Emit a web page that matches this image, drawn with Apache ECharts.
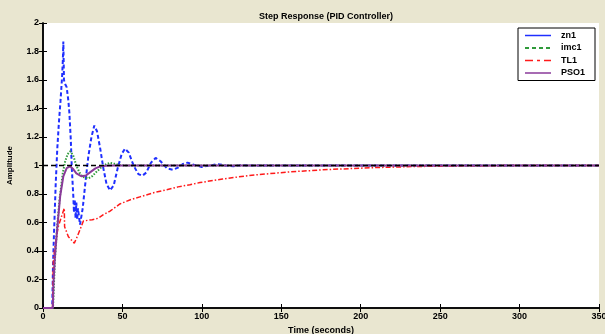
<!DOCTYPE html>
<html>
<head>
<meta charset="utf-8">
<script src="https://cdn.jsdelivr.net/npm/echarts@6/dist/echarts.min.js"></script>
<style>
html, body { margin:0; padding:0; background:#e9e6d0; }
#chart { width:605px; height:334px; }
</style>
</head>
<body>
<div id="chart"></div>
<script>
// step response readings, time in seconds
var zn1T = [0, 5.8, 6.3, 7, 8, 9, 10, 11, 12, 12.5, 12.8, 13.2, 14, 14.9, 16, 16.6, 17.5, 18.1, 19.1, 19.5, 20, 20.5, 21, 21.5, 22, 23.3, 25, 26.4, 28.5, 30.5, 32.3, 34, 36, 38, 40, 42.2, 44.5, 47, 49.5, 51.6, 54, 57, 60, 62.5, 65, 68, 70.9, 74, 78, 81.6, 85, 88, 91, 95, 99.9, 105, 109.7, 115, 120, 125, 130, 140, 350];
var zn1Y = [0, 0, 0.3, 0.55, 0.87, 1.12, 1.3, 1.45, 1.62, 1.74, 1.87, 1.6, 1.57, 1.55, 1.45, 1.37, 1.18, 0.99, 0.78, 0.67, 0.76, 0.63, 0.74, 0.62, 0.7, 0.585, 0.7, 0.85, 1.06, 1.2, 1.28, 1.24, 1.12, 0.98, 0.87, 0.825, 0.86, 0.98, 1.08, 1.118, 1.09, 1.0, 0.94, 0.928, 0.95, 1.02, 1.053, 1.03, 0.98, 0.97, 0.985, 1.01, 1.02, 1.005, 0.99, 1.0, 1.01, 1.0, 0.995, 1.003, 1.0, 1.0, 1.0];

var imc1T = [0, 6.3, 7.5, 9, 10.5, 12.5, 14, 15.5, 17.2, 19, 21, 23, 25, 28.5, 31, 34, 37, 40, 42, 45, 48, 52, 350];
var imc1Y = [0, 0, 0.34, 0.58, 0.77, 0.95, 1.03, 1.08, 1.1, 1.07, 1.0, 0.95, 0.92, 0.91, 0.925, 0.96, 0.99, 1.01, 1.018, 1.012, 1.003, 1.0, 1.0];

var tl1T = [0, 6, 6.5, 7.5, 8.5, 9.6, 11.6, 13.4, 13.6, 16, 19.7, 21.5, 23.3, 25.4, 28, 31, 34.8, 38, 42.2, 48.4, 55, 61, 70, 77.9, 85, 92.5, 98.8, 113, 130, 155, 180, 208, 235, 260, 300, 350];
var tl1Y = [0, 0, 0.32, 0.43, 0.5, 0.57, 0.64, 0.7, 0.57, 0.5, 0.455, 0.5, 0.55, 0.61, 0.615, 0.62, 0.63, 0.655, 0.68, 0.73, 0.76, 0.78, 0.81, 0.83, 0.85, 0.865, 0.88, 0.905, 0.93, 0.955, 0.972, 0.985, 0.993, 0.997, 1.0, 1.0];

var pso1T = [0, 6.2, 6.6, 7.5, 8.7, 10.8, 12.8, 14.9, 17, 19, 21, 24.3, 27, 30, 33, 36, 40, 45, 350];
var pso1Y = [0, 0, 0.175, 0.36, 0.526, 0.783, 0.924, 0.982, 0.994, 0.975, 0.945, 0.924, 0.93, 0.955, 0.98, 0.994, 0.999, 1.0, 1.0];

var refT = [0, 350];
var refY = [1, 1];

function zip(t, y){
	var out = [];
	for(var i=0; i<t.length; i++)
		out.push([t[i], y[i]]);
	return out;
}

var font = 'Liberation Sans';
var lbl = {color:'#000', fontFamily:font, fontWeight:'bold', fontSize:9};
var noDot = {opacity:0};

var chart = echarts.init(document.getElementById('chart'));

var options = {
	backgroundColor: '#e9e6d0',
	animation: false,
	title: {
		text: 'Step Response (PID Controller)',
		left: 321, top: 7, textAlign: 'center',
		textStyle: {color:'#000', fontFamily:font, fontWeight:'bold', fontSize:9}
	},
	legend: {
		orient: 'vertical',
		left: 518, top: 28,
		padding: [3, 10, 3, 6],
		itemWidth: 26, itemHeight: 8, itemGap: 3.5,
		backgroundColor: '#fff',
		borderColor: '#000', borderWidth: 1,
		textStyle: {color:'#000', fontFamily:font, fontWeight:'bold', fontSize:9, padding:[0,0,0,5]},
		data: [
			{name:'zn1', itemStyle:noDot, lineStyle:{type:'solid', width:1.5}},
			{name:'imc1', itemStyle:noDot, lineStyle:{type:[4,3], width:2}},
			{name:'TL1', itemStyle:noDot, lineStyle:{type:[8,4,3,4], width:1.5}},
			{name:'PSO1', itemStyle:noDot, lineStyle:{type:'solid', width:1.5}}
		]
	},
	grid: {left:43, right:6, top:23, bottom:26, show:true, backgroundColor:'#fff', borderWidth:0,
		outerBoundsMode:'none', containLabel:false},
	xAxis: [{
		type: 'value', min: 0, max: 350, interval: 50,
		name: 'Time (seconds)', nameLocation: 'middle', nameGap: 14,
		nameTextStyle: lbl,
		axisLine: {lineStyle:{color:'#000', width:1.5}},
		axisTick: {inside:true, length:4, lineStyle:{color:'#000'}},
		axisLabel: {color:'#000', fontFamily:font, fontWeight:'bold', fontSize:9, margin:4},
		splitLine: {show:false}
	}, {
		type: 'value', min: 0, max: 350, interval: 50, position: 'top',
		axisLine: {lineStyle:{color:'#000', width:1.5}},
		axisTick: {inside:true, length:4, lineStyle:{color:'#000'}},
		axisLabel: {show:false},
		splitLine: {show:false}
	}],
	yAxis: [{
		type: 'value', min: 0, max: 2, interval: 0.2,
		name: 'Amplitude', nameLocation: 'middle', nameGap: 29,
		nameTextStyle: {color:'#000', fontFamily:font, fontWeight:'bold', fontSize:8},
		axisLine: {lineStyle:{color:'#000', width:1.5}},
		axisTick: {inside:true, length:4, lineStyle:{color:'#000'}},
		axisLabel: {color:'#000', fontFamily:font, fontWeight:'bold', fontSize:9, margin:4,
			formatter: function(v){ return String(Math.round(v*10)/10); }},
		splitLine: {show:false}
	}, {
		type: 'value', min: 0, max: 2, interval: 0.2, position: 'right',
		axisLine: {lineStyle:{color:'#000', width:1.5}},
		axisTick: {inside:true, length:4, lineStyle:{color:'#000'}},
		axisLabel: {show:false},
		splitLine: {show:false}
	}],
	series: [
		{name:'zn1', type:'line', showSymbol:false, symbol:'none', data:zip(zn1T, zn1Y),
			lineStyle:{color:'#1f2fff', width:2, type:[4,2.5]}, itemStyle:{color:'#1f2fff'}},
		{name:'imc1', type:'line', showSymbol:false, symbol:'none', data:zip(imc1T, imc1Y),
			lineStyle:{color:'#2f9a3a', width:2, type:[1.5,1.5]}, itemStyle:{color:'#2f9a3a'}},
		{name:'TL1', type:'line', showSymbol:false, symbol:'none', data:zip(tl1T, tl1Y),
			lineStyle:{color:'#ff1a1a', width:1.5, type:[5,2,1.5,2]}, itemStyle:{color:'#ff1a1a'}},
		{name:'PSO1', type:'line', showSymbol:false, symbol:'none', data:zip(pso1T, pso1Y),
			lineStyle:{color:'#8a3a9a', width:2}, itemStyle:{color:'#8a3a9a'}},
		{name:'ref', type:'line', showSymbol:false, symbol:'none', data:zip(refT, refY),
			lineStyle:{color:'#000', width:1.5, type:[5,3]}, itemStyle:{color:'#000'}, silent:true}
	]
};

chart.setOption(options);
</script>
</body>
</html>
